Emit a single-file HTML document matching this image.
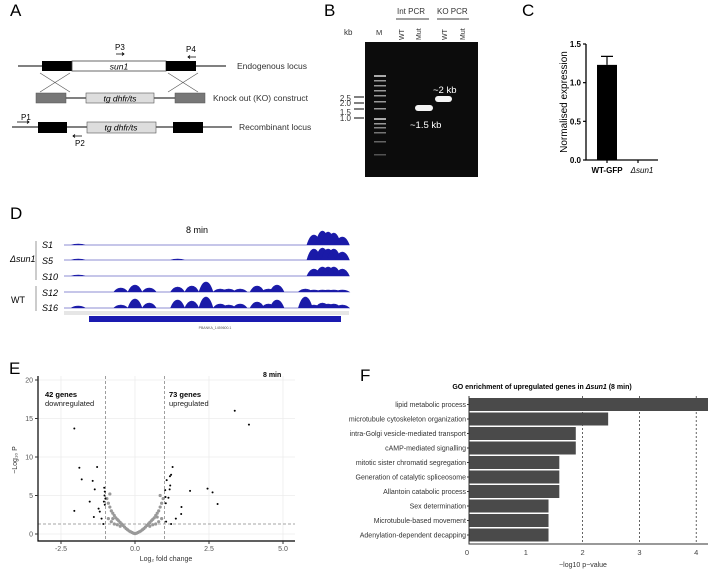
<!DOCTYPE html>
<html><head><meta charset="utf-8"><style>
body{margin:0;background:#fff}
svg{display:block;font-family:"Liberation Sans",Arial,sans-serif}
</style></head><body>
<svg id="fig" width="708" height="571" viewBox="0 0 708 571">
<!-- Panel A -->
<g>
<text x="10" y="16" font-size="17">A</text>
<line x1="18" y1="66" x2="226" y2="66" stroke="#000" stroke-width="1"/>
<rect x="42" y="61" width="30" height="10" fill="#000"/>
<rect x="72" y="61" width="94" height="10" fill="#fff" stroke="#444" stroke-width="0.8"/>
<rect x="166" y="61" width="30" height="10" fill="#000"/>
<text x="119" y="69.5" font-size="8.5" font-style="italic" text-anchor="middle">sun1</text>
<text x="237" y="69" font-size="8.5" fill="#333">Endogenous locus</text>
<text x="115" y="50" font-size="8">P3</text><path d="M116 54 L124 54 M122 52.5 L124 54 L122 55.5" stroke="#000" fill="none" stroke-width="0.8"/>
<text x="186" y="52" font-size="8">P4</text><path d="M196 57 L188 57 M190 55.5 L188 57 L190 58.5" stroke="#000" fill="none" stroke-width="0.8"/>
<path d="M40 92 L70 73 M40 73 L70 92 M168 73 L198 92 M168 92 L198 73" stroke="#555" stroke-width="0.6"/>
<line x1="65" y1="98" x2="175" y2="98" stroke="#000"/>
<rect x="36" y="93" width="30" height="10" fill="#777" stroke="#555" stroke-width="0.5"/>
<rect x="86" y="93" width="68" height="10" fill="#ddd" stroke="#555" stroke-width="0.6"/>
<rect x="175" y="93" width="30" height="10" fill="#777" stroke="#555" stroke-width="0.5"/>
<text x="120" y="101.5" font-size="8.5" font-style="italic" text-anchor="middle">tg dhfr/ts</text>
<text x="213" y="101" font-size="8.5" fill="#333">Knock out (KO) construct</text>
<line x1="12" y1="127" x2="232" y2="127" stroke="#000"/>
<rect x="38" y="122" width="29" height="11" fill="#000"/>
<rect x="87" y="122" width="69" height="11" fill="#ddd" stroke="#555" stroke-width="0.6"/>
<rect x="173" y="122" width="30" height="11" fill="#000"/>
<text x="121" y="130.5" font-size="8.5" font-style="italic" text-anchor="middle">tg dhfr/ts</text>
<text x="239" y="130" font-size="8.5" fill="#333">Recombinant locus</text>
<text x="21" y="120" font-size="8">P1</text><path d="M17 122 L29 122 M27 120.5 L29 122 L27 123.5" stroke="#000" fill="none" stroke-width="0.8"/>
<text x="75" y="146" font-size="8">P2</text><path d="M82 136 L73 136 M75 134.5 L73 136 L75 137.5" stroke="#000" fill="none" stroke-width="0.8"/>
</g>
<!-- Panel B -->
<g>
<text x="324" y="16" font-size="17">B</text>
<text x="344" y="35" font-size="8" fill="#333">kb</text>
<text x="351" y="101" font-size="8" fill="#333" text-anchor="end">2.5</text>
<text x="351" y="106" font-size="8" fill="#333" text-anchor="end">2.0</text>
<text x="351" y="115" font-size="8" fill="#333" text-anchor="end">1.5</text>
<text x="351" y="121" font-size="8" fill="#333" text-anchor="end">1.0</text>
<path d="M354 97 H364 M354 103 H364 M354 109 H364 M354 118 H364" stroke="#000" stroke-width="1"/>
<text x="397" y="14" font-size="8" fill="#333">Int PCR</text>
<text x="437" y="14" font-size="8" fill="#333">KO PCR</text>
<line x1="396" y1="19" x2="429" y2="19" stroke="#000" stroke-width="0.8"/>
<line x1="437" y1="19" x2="469" y2="19" stroke="#000" stroke-width="0.8"/>
<text x="376" y="35" font-size="7.5" fill="#333">M</text>
<g font-size="7" fill="#333"><text transform="translate(404,40) rotate(-90)">WT</text><text transform="translate(421,40) rotate(-90)">Mut</text><text transform="translate(447,40) rotate(-90)">WT</text><text transform="translate(465,40) rotate(-90)">Mut</text></g>
<rect x="365" y="42" width="113" height="135" fill="#0c0c0c"/>
<g fill="#bbb">
<rect x="374" y="75" width="12" height="2" opacity="0.9"/><rect x="374" y="80" width="12" height="1.5" opacity="0.8"/><rect x="374" y="85" width="12" height="1.5" opacity="0.8"/><rect x="374" y="90" width="12" height="1.5" opacity="0.8"/><rect x="374" y="95" width="12" height="1.5" opacity="0.8"/><rect x="374" y="101" width="12" height="1.5" opacity="0.8"/><rect x="374" y="108" width="12" height="1.5" opacity="0.8"/><rect x="374" y="118" width="12" height="2" opacity="0.9"/><rect x="374" y="123" width="12" height="1.5" opacity="0.8"/><rect x="374" y="127" width="12" height="1.5" opacity="0.7"/><rect x="374" y="132" width="12" height="1.5" opacity="0.6"/><rect x="374" y="141" width="12" height="1.5" opacity="0.5"/><rect x="374" y="154" width="12" height="1.5" opacity="0.4"/>
</g>
<rect x="415" y="105" width="18" height="6" rx="3" fill="#f4f4f4"/>
<rect x="435" y="96" width="17" height="6" rx="3" fill="#f4f4f4"/>
<text x="433" y="93" font-size="9.5" fill="#fff">~2 kb</text>
<text x="410" y="128" font-size="9.5" fill="#fff">~1.5 kb</text>
</g>
<!-- Panel C -->
<g>
<text x="522" y="16" font-size="17">C</text>
<g id="chartC"></g>
</g>
<!-- Panel D -->
<g>
<text x="10" y="219" font-size="17">D</text>
<text x="197" y="233" font-size="9" text-anchor="middle">8 min</text>
<line x1="36" y1="241" x2="36" y2="280" stroke="#999"/>
<line x1="36" y1="286" x2="36" y2="311" stroke="#999"/>
<text x="10" y="262" font-size="9" font-style="italic">Δsun1</text>
<text x="11" y="303" font-size="9">WT</text>
<g font-size="9" font-style="italic"><text x="42" y="248">S1</text><text x="42" y="264">S5</text><text x="42" y="280">S10</text><text x="42" y="296">S12</text><text x="42" y="311">S16</text></g>
<g id="tracks"></g>
<line x1="64" y1="312" x2="349" y2="312" stroke="#999" stroke-width="0.6"/>
<line x1="64" y1="314" x2="349" y2="314" stroke="#999" stroke-width="0.6"/>
<rect x="89" y="316" width="252" height="6" fill="#1a1ab0"/>
<text x="215" y="329" font-size="3.5" fill="#555" text-anchor="middle">PBANKA_1459600.1</text>
</g>
<!-- Panel E -->
<g>
<text x="9" y="374" font-size="17">E</text>
<g id="chartE"></g>
</g>
<!-- Panel F -->
<g>
<text x="360" y="381" font-size="17">F</text>
<g id="chartF"></g>
</g>
</svg>
<script>
const NS='http://www.w3.org/2000/svg';
function mk(p,tag,a){const e=document.createElementNS(NS,tag);for(const k in a)e.setAttribute(k,a[k]);p.appendChild(e);return e;}

// ---------- Panel C data ----------
const cCategories=['WT-GFP','Δsun1'];
const cValues=[1.23,0];
const cErrors=[0.11,0];
const cTicks=[0,0.5,1.0,1.5];
// ---------- Panel E data ----------
const eSigX=[-2.05,-1.88,-1.8,-1.28,-1.43,-1.36,-1.53,-2.05,-1.23,-1.19,-1.39,-1.13,-1.07,-1.02,-1.03,-1.0,-1.04,-1.05,-1.02,3.37,3.85,1.27,1.22,1.18,1.07,1.19,1.17,1.86,2.45,2.62,2.79,1.57,1.56,1.38,1.05,1.22,1.02,1.03,1.04,1.13];
const eSigY=[13.7,8.6,7.1,8.7,6.9,5.8,4.2,3.0,3.3,2.9,2.2,2.0,1.3,5.5,5.0,4.6,6.0,4.2,3.8,16.0,14.2,8.7,7.7,7.5,7.0,6.3,5.8,5.6,5.9,5.4,3.9,3.5,2.6,2.0,1.6,1.3,5.7,4.8,4.0,4.7];
const eNsX=[-0.95,-0.9,-0.85,-0.8,-0.75,-0.7,-0.65,-0.6,-0.55,-0.5,-0.45,-0.4,-0.35,-0.3,-0.25,-0.2,-0.15,-0.1,-0.05,0,0.05,0.1,0.15,0.2,0.25,0.3,0.35,0.4,0.45,0.5,0.55,0.6,0.65,0.7,0.75,0.8,0.85,0.9,0.95,-0.9,-0.8,-0.7,-0.6,-0.5,0.5,0.6,0.7,0.8,0.9,-0.85,-0.75,0.75,0.85];
const eNsY=[4.6,4.0,3.5,3.0,2.7,2.4,2.1,1.9,1.7,1.5,1.3,1.1,0.9,0.7,0.55,0.4,0.3,0.2,0.1,0.05,0.1,0.2,0.3,0.4,0.55,0.7,0.9,1.1,1.3,1.5,1.7,1.9,2.1,2.4,2.7,3.0,3.5,4.0,4.6,2.0,1.6,1.3,1.2,1.0,1.0,1.2,1.3,1.6,2.0,5.2,2.0,2.2,5.0];
const eXTicks=[-2.5,0.0,2.5,5.0];
const eYTicks=[0,5,10,15,20];
// ---------- Panel F data ----------
const fTerms=['lipid metabolic process','microtubule cytoskeleton organization','intra-Golgi vesicle-mediated transport','cAMP-mediated signalling','mitotic sister chromatid segregation','Generation of catalytic spliceosome','Allantoin catabolic process','Sex determination','Microtubule-based movement','Adenylation-dependent decapping'];
const fValues=[4.3,2.45,1.88,1.88,1.59,1.59,1.59,1.4,1.4,1.4];
const fTicks=[0,1,2,3,4];
// ---------- Panel D track peaks (position 0-1, height px) ----------
const dSamples=['S1','S5','S10','S12','S16'];
const dPeakPos=[0.05,0.4,0.45,0.5,0.62,0.68,0.75,0.85,0.88,0.91,0.93,0.95,0.98];
const dPeakH=[
 [1,0,0,0,0,0,0,0,10,14,13,12,8],
 [1,1,0,0,0,0,0,0,11,12,11,11,8],
 [1,0,0,0,0,0,0,0,7,9,9,9,7],
 [0,5,6,10,3,6,7,3,2,2,2,2,2],
 [2,8,7,11,4,6,8,11,3,5,4,4,3]];
const dExtraPos=[0.2,0.25,0.3,0.55,0.58,0.72];
const dExtraH=[[0,0,0,0,0,0],[0,0,0,0,0,0],[0,0,0,0,0,0],[4,7,4,3,3,3],[3,9,5,4,3,4]];

// ===== Chart C =====
(function(){
 const g=document.getElementById('chartC');
 const x0=586,yb=160,yt=44,vmax=1.5;
 const y=v=>yb-(v/vmax)*(yb-yt);
 const xc=i=>607+i*31;
 const ax=mk(g,'path',{d:`M${x0} ${yt} V${yb} H658`,stroke:'#000','stroke-width':1.3,fill:'none'});
 
 cTicks.forEach(t=>{
  mk(g,'line',{x1:x0-3,x2:x0,y1:y(t),y2:y(t),stroke:'#000','stroke-width':1.2});
  const tx=mk(g,'text',{x:x0-5,y:y(t)+3,'font-size':8,'font-weight':'bold','text-anchor':'end'});tx.textContent=t.toFixed(1);
  
 });
 cValues.forEach((v,i)=>{
  const b=mk(g,'rect',{x:xc(i)-10,y:y(v),width:20,height:yb-y(v),fill:'#000'});
  
  if(cErrors[i]>0){mk(g,'path',{d:`M${xc(i)} ${y(v)} V${y(v+cErrors[i])} M${xc(i)-6} ${y(v+cErrors[i])} H${xc(i)+6}`,stroke:'#000','stroke-width':1.2});}
  mk(g,'line',{x1:xc(i),x2:xc(i),y1:yb,y2:yb+3,stroke:'#000','stroke-width':1.2});
  const t=mk(g,'text',{x:xc(i)+(i?4:0),y:yb+13,'font-size':8,'font-weight':i?'normal':'bold','font-style':i?'italic':'normal','text-anchor':'middle'});t.textContent=cCategories[i];
  
 });
 const yl=mk(g,'text',{transform:'translate(567,102) rotate(-90)','font-size':10,'text-anchor':'middle'});yl.textContent='Normalised expression';
 
})();

// ===== Tracks D =====
(function(){
 const g=document.getElementById('tracks');
 const base=[245,260,276,292,308],xa=64,xb=348;
 dSamples.forEach((s,i)=>{
  let d=`M${xa} ${base[i]}`;
  const pk=[];dPeakPos.forEach((p,j)=>pk.push([p,dPeakH[i][j]]));dExtraPos.forEach((p,j)=>pk.push([p,dExtraH[i][j]]));
  pk.sort((a,b)=>a[0]-b[0]);
  pk.forEach(([p,h])=>{if(h<=0)return;const cx=xa+p*(xb-xa);d+=` L${cx-7} ${base[i]} Q${cx-4} ${base[i]-h} ${cx} ${base[i]-h} Q${cx+4} ${base[i]-h} ${cx+7} ${base[i]}`;});
  d+=` L${xb} ${base[i]} Z`;
  const p=mk(g,'path',{d,fill:'#1a1aa8',stroke:'#1a1aa8','stroke-width':0.6});
  
 });
})();

// ===== Chart E =====
(function(){
 const g=document.getElementById('chartE');
 const X=v=>135+v*29.6, Y=v=>534-v*7.7;
 [-2.5,0,2.5,5].forEach(t=>mk(g,'line',{x1:X(t),x2:X(t),y1:376,y2:541,stroke:'#ececec','stroke-width':0.8}));
 [0,5,10,15,20].forEach(t=>mk(g,'line',{x1:38,x2:295,y1:Y(t),y2:Y(t),stroke:'#ececec','stroke-width':0.8}));
 mk(g,'line',{x1:X(-1),x2:X(-1),y1:376,y2:541,stroke:'#777','stroke-dasharray':'3,2','stroke-width':0.7});
 mk(g,'line',{x1:X(1),x2:X(1),y1:376,y2:541,stroke:'#777','stroke-dasharray':'3,2','stroke-width':0.7});
 mk(g,'line',{x1:38,x2:295,y1:Y(1.3),y2:Y(1.3),stroke:'#888','stroke-dasharray':'3,2','stroke-width':0.7});
 eNsX.forEach((x,i)=>{const c=mk(g,'circle',{cx:X(x),cy:Y(eNsY[i]),r:1.6,fill:'#999'});});
 eSigX.forEach((x,i)=>{const c=mk(g,'circle',{cx:X(x),cy:Y(eSigY[i]),r:1,fill:'#000'});});
 const ax=mk(g,'path',{d:'M38 376 V541 H295',stroke:'#000','stroke-width':1.2,fill:'none'});
 eXTicks.forEach(t=>{mk(g,'line',{x1:X(t),x2:X(t),y1:541,y2:544,stroke:'#333'});const tx=mk(g,'text',{x:X(t),y:551,'font-size':7,fill:'#555','text-anchor':'middle'});tx.textContent=t.toFixed(1);});
 eYTicks.forEach(t=>{mk(g,'line',{x1:35,x2:38,y1:Y(t),y2:Y(t),stroke:'#333'});const tx=mk(g,'text',{x:33,y:Y(t)+2.5,'font-size':7,fill:'#555','text-anchor':'end'});tx.textContent=t;});
 const xl=mk(g,'text',{x:166,y:561,'font-size':7,fill:'#333','text-anchor':'middle'});xl.textContent='Log₂ fold change';
 
 const yl=mk(g,'text',{transform:'translate(17,460) rotate(-90)','font-size':7,fill:'#333','text-anchor':'middle'});yl.textContent='−Log₁₀ P';
 
 const t1=mk(g,'text',{x:263,y:377,'font-size':7,'font-weight':'bold'});t1.textContent='8 min';
 const a=mk(g,'text',{x:45,y:397,'font-size':7.5,'font-weight':'bold'});a.textContent='42 genes';
 const b=mk(g,'text',{x:45,y:406,'font-size':7.5,fill:'#222'});b.textContent='downregulated';
 const c=mk(g,'text',{x:169,y:397,'font-size':7.5,'font-weight':'bold'});c.textContent='73 genes';
 const d=mk(g,'text',{x:169,y:406,'font-size':7.5,fill:'#222'});d.textContent='upregulated';
})();

// ===== Chart F =====
(function(){
 const g=document.getElementById('chartF');
 const X=v=>469+v*56.8, Yc=i=>404.5+i*14.5;
 const t=mk(g,'text',{x:542,y:389,'font-size':7,'font-weight':'bold','text-anchor':'middle'});t.textContent='GO enrichment of upregulated genes in ';
 const ts=mk(t,'tspan',{'font-style':'italic'});ts.textContent='Δsun1';
 const ts2=mk(t,'tspan',{});ts2.textContent=' (8 min)';
 
 [2,3,4].forEach(v=>mk(g,'line',{x1:X(v),x2:X(v),y1:396,y2:543,stroke:'#222','stroke-dasharray':'2,2','stroke-width':0.7}));
 fValues.forEach((v,i)=>{
  const b=mk(g,'rect',{x:X(0),y:Yc(i)-6.5,width:Math.min(X(v),708)-X(0),height:13,fill:'#4a4a4a'});
  
  mk(g,'line',{x1:X(0)-2,x2:X(0),y1:Yc(i),y2:Yc(i),stroke:'#333'});
  const l=mk(g,'text',{x:X(0)-3,y:Yc(i)+2.5,'font-size':7,fill:'#333','text-anchor':'end'});l.textContent=fTerms[i];
  
 });
 const ax=mk(g,'path',{d:`M${X(0)} 396 V544 H708`,stroke:'#333','stroke-width':1,fill:'none'});
 fTicks.forEach(v=>{const tx=mk(g,'text',{x:X(v)-(v?0:2),y:555,'font-size':7.5,fill:'#444','text-anchor':'middle'});tx.textContent=v;});
 const xl=mk(g,'text',{x:583,y:567,'font-size':7,fill:'#333','text-anchor':'middle'});xl.textContent='−log10 p−value';
 
})();
</script>
</body></html>
